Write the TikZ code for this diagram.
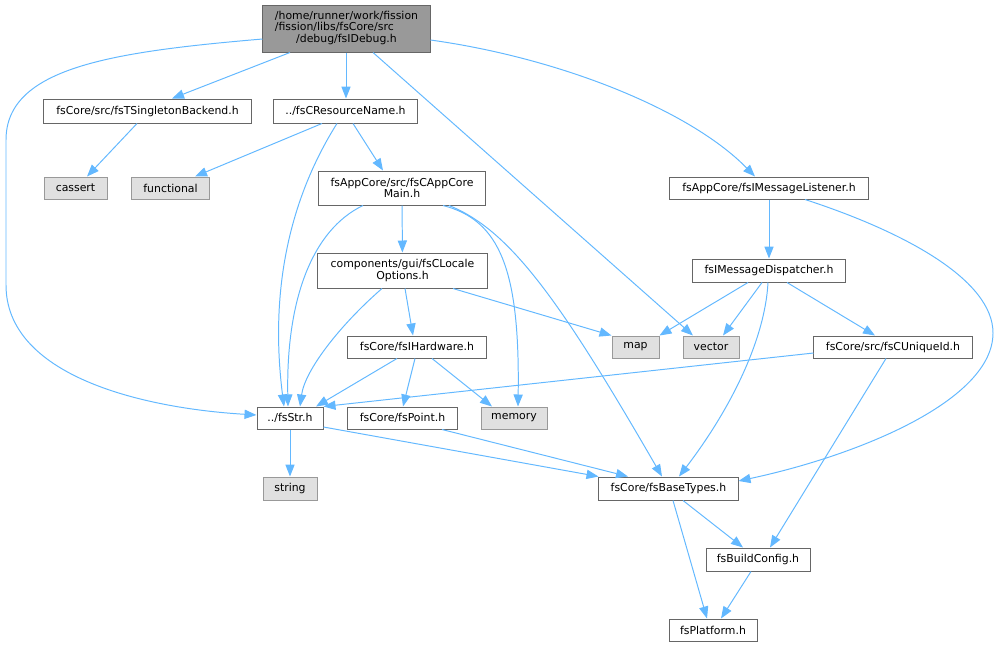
\documentclass[tikz,border=0pt]{standalone}
\usepackage{fontspec}
\setmainfont{DejaVu Sans}
\usepackage{tikz}
\usetikzlibrary{arrows.meta}
\definecolor{edgeblue}{HTML}{63B8FF}
\definecolor{boxgray}{HTML}{666666}
\definecolor{sysgray}{HTML}{999999}
\definecolor{sysfill}{HTML}{E0E0E0}
\tikzstyle{file} = [draw=boxgray, line width=0.7pt, fill=white, inner sep=1pt, minimum height=0.55cm, font=\fontsize{7.75}{8.4}\selectfont, align=center]
\tikzstyle{sysfile} = [file, draw=sysgray, fill=sysfill]
\tikzstyle{rootfile} = [file, fill=sysgray]
\tikzstyle{incarrow} = [draw=edgeblue, line width=0.7pt, -{Triangle[length=0.3cm,width=0.23cm]}]

\begin{document}
\begin{tikzpicture}[x=0.025cm, y=-0.025cm]
                \useasboundingbox (0,0) rectangle (1000,647);
                % files
                \node[rootfile, minimum width=4.175cm, minimum height=1.175cm] (root) at (346.5,28.5) {\begin{tabular}{@{}l@{}}/home/runner/work/fission\\/fission/libs/fsCore/src\\\multicolumn{1}{@{}c@{}}{/debug/fsIDebug.h}\end{tabular}};
                \node[file, minimum width=5.175cm, minimum height=0.6cm] (tsb) at (147.5,111) {fsCore/src/fsTSingletonBackend.h};
                \node[file, minimum width=3.575cm, minimum height=0.6cm] (crn) at (345.5,111) {../fsCResourceName.h};
                \node[sysfile, minimum width=1.575cm] (cassert) at (75.5,188) {cassert};
                \node[sysfile, minimum width=1.925cm] (functional) at (170.5,188) {functional};
                \node[file, minimum width=4.15cm, minimum height=0.85cm] (appmain) at (402,188) {fsAppCore/src/fsCAppCore\\Main.h};
                \node[file, minimum width=4.95cm] (msglist) at (769,188) {fsAppCore/fsIMessageListener.h};
                \node[file, minimum width=4.225cm, minimum height=0.875cm] (locale) at (402.5,270.5) {components/gui/fsCLocale\\Options.h};
                \node[file, minimum width=3.8cm, minimum height=0.575cm] (dispatch) at (769,270.5) {fsIMessageDispatcher.h};
                \node[file, minimum width=3.45cm] (hardware) at (417,347) {fsCore/fsIHardware.h};
                \node[sysfile, minimum width=1.175cm] (map) at (635.5,347) {map};
                \node[sysfile, minimum width=1.4cm] (vector) at (711,347) {vector};
                \node[file, minimum width=3.95cm] (uniqueid) at (893,347) {fsCore/src/fsCUniqueId.h};
                \node[file, minimum width=1.65cm] (fsstr) at (290,418) {../fsStr.h};
                \node[file, minimum width=2.725cm] (point) at (402.5,418) {fsCore/fsPoint.h};
                \node[sysfile, minimum width=1.65cm] (memory) at (514,418) {memory};
                \node[sysfile, minimum width=1.35cm, minimum height=0.575cm] (string) at (290,488.5) {string};
                \node[file, minimum width=3.475cm, minimum height=0.575cm] (basetypes) at (668.5,488.5) {fsCore/fsBaseTypes.h};
                \node[file, minimum width=2.6cm, minimum height=0.575cm] (buildcfg) at (758,559.5) {fsBuildConfig.h};
                \node[file, minimum width=2.2cm] (platform) at (713,630) {fsPlatform.h};

                % includes of the root file
                \draw[incarrow] (root.west |- 0,39) .. controls (110,52) and (6,68) .. (6,140) -- (6,285) .. controls (6,375) and (140,408) .. (fsstr.west |- 0,415);
                \draw[incarrow] (root.south -| 290,0) -- (tsb.north -| 172,0);
                \draw[incarrow] (root.south -| 346,0) -- (crn.north -| 346,0);
                \draw[incarrow] (root.south -| 373,0) -- (vector.north -| 693,0);
                \draw[incarrow] (root.east |- 0,40) .. controls (560,58) and (690,110) .. (msglist.north -| 755,0);

                % second level
                \draw[incarrow] (tsb.south -| 137,0) -- (cassert.north -| 87,0);
                \draw[incarrow] (crn.south -| 322,0) -- (functional.north -| 195,0);
                \draw[incarrow] (crn.south -| 337,0) .. controls (295,190) and (268,280) .. (fsstr.north -| 284,0);
                \draw[incarrow] (crn.south -| 353,0) -- (appmain.north -| 383,0);
                \draw[incarrow] (appmain) -- (locale);
                \draw[incarrow] (appmain.south -| 363,0) .. controls (312,230) and (286,300) .. (fsstr.north -| 288,0);
                \draw[incarrow] (appmain.south -| 443,0) .. controls (500,220) and (520,270) .. (memory.north -| 518,0);
                \draw[incarrow] (appmain.south -| 449,0) .. controls (510,230) and (560,300) .. (basetypes.north -| 662,0);
                \draw[incarrow] (msglist) -- (dispatch);
                \draw[incarrow] (msglist.south -| 805,0) .. controls (905,232) and (993,280) .. (993,333) .. controls (993,400) and (860,455) .. (basetypes.east |- 0,481);

                % third level
                \draw[incarrow] (locale.south -| 405,0) -- (hardware.north -| 413,0);
                \draw[incarrow] (locale.south -| 382,0) .. controls (340,325) and (305,370) .. (fsstr.north -| 300,0);
                \draw[incarrow] (locale.south -| 453,0) -- (map.north west);
                \draw[incarrow] (dispatch.south -| 748,0) -- (map.north east);
                \draw[incarrow] (dispatch.south -| 762,0) -- (vector.north -| 723,0);
                \draw[incarrow] (dispatch.south -| 787,0) -- (uniqueid.north -| 875,0);
                \draw[incarrow] (dispatch.south -| 768,0) .. controls (765,340) and (730,410) .. (basetypes.north -| 679,0);
                \draw[incarrow] (hardware.south -| 397,0) -- (fsstr.north -| 316,0);
                \draw[incarrow] (hardware.south -| 415,0) -- (point.north -| 403,0);
                \draw[incarrow] (hardware.south -| 432,0) -- (memory.north -| 492,0);
                \draw[incarrow] (uniqueid.west |- 0,353) -- (fsstr.north east);
                \draw[incarrow] (uniqueid.south -| 886,0) -- (buildcfg.north -| 770,0);

                % bottom
                \draw[incarrow] (fsstr) -- (string);
                \draw[incarrow] (fsstr.east |- 0,427) -- (basetypes.north west);
                \draw[incarrow] (point.south -| 442,0) -- (basetypes.north -| 628,0);
                \draw[incarrow] (basetypes.south -| 683,0) -- (buildcfg.north -| 743,0);
                \draw[incarrow] (basetypes.south -| 673,0) -- (platform.north -| 707,0);
                \draw[incarrow] (buildcfg.south -| 751,0) -- (platform.north -| 721,0);
            \end{tikzpicture}
\end{document}
